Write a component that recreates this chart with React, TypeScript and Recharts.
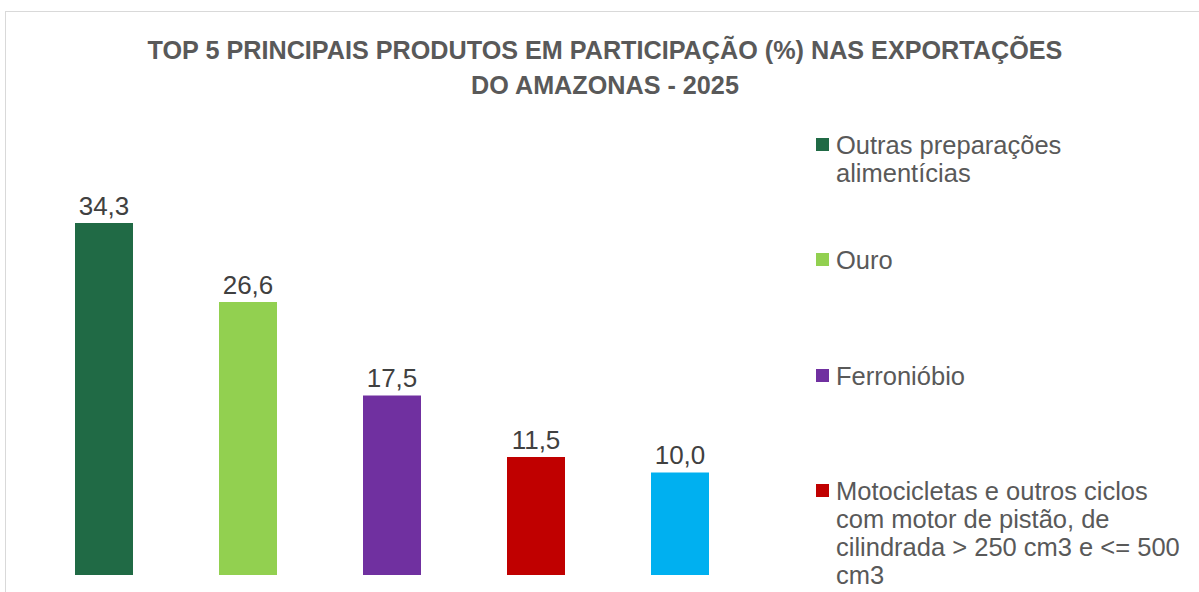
import { BarChart, Bar, XAxis, YAxis, Cell, LabelList } from "recharts";

const produtos = [
  "Outras preparações\nalimentícias",
  "Ouro",
  "Ferronióbio",
  "Motocicletas e outros ciclos\ncom motor de pistão, de\ncilindrada > 250 cm3 e <= 500\ncm3",
  "Motocicletas e outros ciclos\ncom motor de pistão, de\ncilindrada > 50 cm3 e <= 250\ncm3",
];
const participacao = [34.3, 26.6, 17.5, 11.5, 10.0];
const cores = ["#206A45", "#92D050", "#7030A0", "#C00000", "#00B0F0"];

const titulo = [
  "TOP 5 PRINCIPAIS PRODUTOS EM PARTICIPAÇÃO (%) NAS EXPORTAÇÕES",
  "DO AMAZONAS - 2025",
];

const data = produtos.map((nome, i) => ({
  nome,
  valor: participacao[i],
  cor: cores[i],
}));

const fmt = (v: unknown) => Number(v).toFixed(1).replace(".", ",");

function Legenda() {
  return (
    <div style={{ position: "absolute", left: 810, top: 131, width: 420 }}>
      {data.map((d) => (
        <div key={d.nome} style={{ height: 115.3, display: "flex", alignItems: "flex-start" }}>
          <div
            style={{
              width: 13,
              height: 13,
              background: d.cor,
              marginTop: 7,
              marginLeft: 6,
              marginRight: 7,
              flexShrink: 0,
            }}
          />
          <div
            style={{
              fontFamily: "Liberation Sans",
              fontSize: 25.5,
              lineHeight: "28px",
              color: "#595959",
              whiteSpace: "pre-line",
            }}
          >
            {d.nome}
          </div>
        </div>
      ))}
    </div>
  );
}

export default function App() {
  return (
    <div
      style={{
        position: "absolute",
        left: 0,
        top: 0,
        width: 1199,
        height: 592,
        overflow: "hidden",
        background: "#fff",
      }}
    >
      <div
        style={{
          position: "absolute",
          left: 5,
          top: 11,
          width: 1240,
          height: 640,
          border: "1.5px solid #D9D9D9",
        }}
      />
      <div
        style={{
          position: "absolute",
          left: 0,
          top: 33,
          width: 1210,
          textAlign: "center",
          fontFamily: "Liberation Sans",
          fontWeight: "bold",
          fontSize: 25.2,
          lineHeight: "35px",
          color: "#595959",
        }}
      >
        {titulo.map((t) => (
          <div key={t}>{t}</div>
        ))}
      </div>
      <div style={{ position: "absolute", left: 0, top: 0 }}>
        <BarChart
          width={790}
          height={592}
          data={data}
          margin={{ top: 164.6, right: 38, bottom: 17, left: 32 }}
          barCategoryGap={43}
        >
          <XAxis dataKey="nome" hide />
          <YAxis domain={[0, 40]} hide />
          <Bar dataKey="valor" barSize={58} isAnimationActive={false}>
            {data.map((d) => (
              <Cell key={d.nome} fill={d.cor} />
            ))}
            <LabelList
              dataKey="valor"
              position="top"
              offset={8}
              formatter={fmt}
              style={{ fontFamily: "Liberation Sans", fontSize: 26, fill: "#404040" }}
            />
          </Bar>
        </BarChart>
      </div>
      <Legenda />
    </div>
  );
}
